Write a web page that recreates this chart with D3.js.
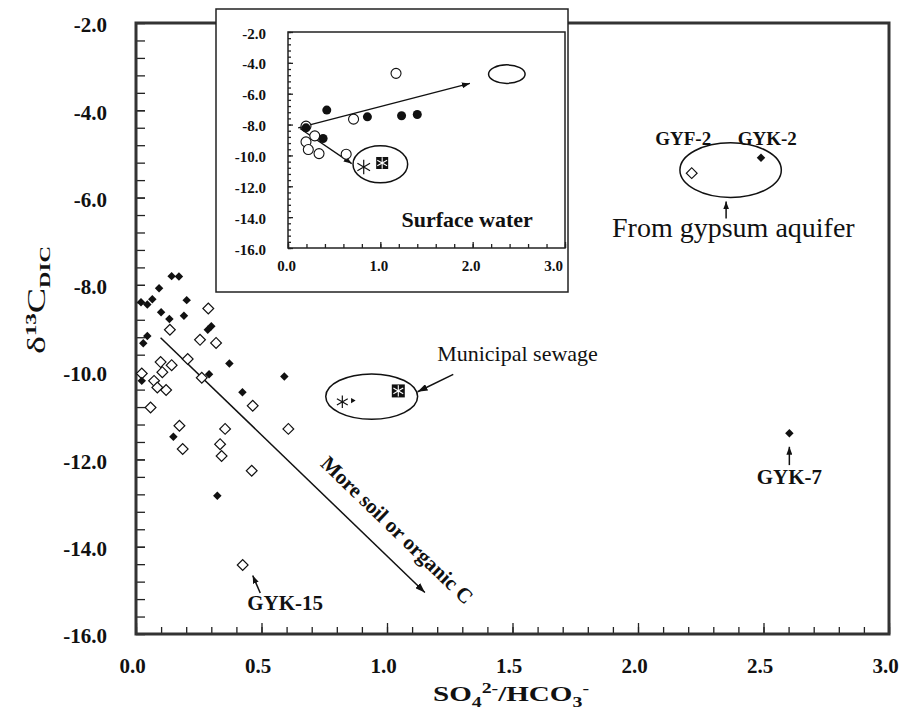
<!DOCTYPE html>
<html>
<head>
<meta charset="utf-8">
<script src="https://cdn.jsdelivr.net/npm/d3@7"></script>
<style>
body { margin: 0; background: #fff; }
text { font-family: "Liberation Serif", "Times New Roman", serif; fill: #111; }
</style>
</head>
<body>
<div id="chart"></div>
<script>
// groundwater, filled diamonds  [SO4/HCO3, d13C]
const filledDiamonds = [
  [0.142, -7.80], [0.171, -7.81], [0.092, -8.08], [0.020, -8.40], [0.065, -8.33],
  [0.045, -8.45], [0.202, -8.35], [0.100, -8.63], [0.133, -8.78], [0.191, -8.71],
  [0.286, -9.03], [0.300, -8.95], [0.045, -9.17], [0.029, -9.34], [0.372, -9.80],
  [0.291, -10.05], [0.591, -10.10], [0.023, -10.20], [0.424, -10.46], [0.149, -11.48],
  [0.324, -12.83], [2.490, -5.09], [2.603, -11.40]
];
// groundwater, open diamonds
const openDiamonds = [
  [0.288, -8.54], [0.135, -9.03], [0.255, -9.26], [0.319, -9.33], [0.206, -9.70],
  [0.098, -9.77], [0.142, -9.84], [0.105, -10.00], [0.023, -10.03], [0.262, -10.13],
  [0.072, -10.20], [0.085, -10.35], [0.120, -10.41], [0.465, -10.77], [0.058, -10.81],
  [0.173, -11.23], [0.355, -11.30], [0.607, -11.30], [0.335, -11.65], [0.186, -11.76],
  [0.341, -11.92], [0.461, -12.26], [0.425, -14.42], [2.214, -5.44]
];
// sewage samples
const sewageStar = [[0.822, -10.68]];
const sewageTriangle = [[0.863, -10.65]];
const sewageBox = [[1.045, -10.43]];

// inset: surface water
const insetOpen = [
  [1.17, -4.68], [0.71, -7.65], [0.195, -8.10], [0.29, -8.73],
  [0.195, -9.12], [0.22, -9.62], [0.336, -9.88], [0.63, -9.92]
];
const insetFilled = [
  [0.42, -7.06], [0.195, -8.21], [0.38, -8.90], [0.86, -7.50], [1.23, -7.43], [1.40, -7.35]
];
const insetStar = [[0.82, -10.75]];
const insetBox = [[1.02, -10.49]];

const xTicks = [0, 0.5, 1, 1.5, 2, 2.5, 3];
const yTicks = [-2, -4, -6, -8, -10, -12, -14, -16];
const insetXTicks = [0, 1, 2, 3];
const insetYTicks = [-2, -4, -6, -8, -10, -12, -14, -16];

var margin = {top: 23, right: 11, bottom: 78, left: 136},
width = 900 - margin.left - margin.right,
height = 712 - margin.top - margin.bottom;

var svgRoot = d3.select("#chart")
.append("svg")
.attr("width", 900)
.attr("height", 712);

var svg = svgRoot.append("g")
.attr("transform", "translate(" + margin.left + "," + margin.top + ")");

var x = d3.scaleLinear().domain([0, 3]).range([0, width]);
var y = d3.scaleLinear().domain([-16, -2]).range([height, 0]);

defineArrow(svgRoot, "head", 10, 7);
defineArrow(svgRoot, "headSmall", 8, 6);

function defineArrow(root, id, len, wid) {
  root.append("defs").append("marker")
  .attr("id", id)
  .attr("markerUnits", "userSpaceOnUse")
  .attr("markerWidth", len).attr("markerHeight", wid)
  .attr("refX", len).attr("refY", wid / 2)
  .attr("orient", "auto")
  .append("path")
  .attr("d", "M0,0L" + len + "," + (wid / 2) + "L0," + wid + "Z")
  .attr("fill", "#111");
}

function styleTicks(g, size) {
  g.select(".domain").remove();
  g.selectAll("line").attr("stroke", "#222").attr("stroke-width", 1.3);
  g.selectAll("text")
  .style("font-family", '"Liberation Serif", "Times New Roman", serif')
  .style("font-weight", "bold")
  .style("font-size", size + "px")
  .attr("fill", "#111");
}

// ---- main axes ----
svg.append("g")
.attr("transform", "translate(0," + height + ")")
.call(d3.axisBottom(x).tickValues(d3.range(0, 3.001, 0.1)).tickSize(-7).tickFormat(""))
.call(g => styleTicks(g, 21));

svg.append("g")
.attr("transform", "translate(0," + height + ")")
.call(d3.axisBottom(x).tickValues(xTicks).tickSize(-11).tickPadding(24)
  .tickFormat(d => d.toFixed(1)))
.call(g => styleTicks(g, 21))
.call(g => g.selectAll("text").attr("dx", -4));

svg.append("g")
.call(d3.axisLeft(y).tickValues(d3.range(-16, -1.99, 0.4)).tickSize(-9).tickFormat(""))
.call(g => styleTicks(g, 21));

svg.append("g")
.call(d3.axisLeft(y).tickValues(yTicks).tickSize(-9).tickPadding(29)
  .tickFormat(d => d.toFixed(1)))
.call(g => styleTicks(g, 21))
.call(g => g.selectAll("text").attr("dy", "0.42em"));

svg.append("rect")
.attr("x", 0).attr("y", 0).attr("width", width).attr("height", height)
.attr("fill", "none").attr("stroke", "#333").attr("stroke-width", 3);

// axis titles
var yTitle = svgRoot.append("text")
.attr("transform", "translate(45,300) rotate(-90)")
.attr("text-anchor", "middle")
.attr("textLength", 108)
.attr("lengthAdjust", "spacingAndGlyphs")
.style("font-size", "25px");
yTitle.append("tspan").text("\u03B4");
yTitle.append("tspan").attr("dy", -9).style("font-size", "15px").style("font-weight", "bold").text("13");
yTitle.append("tspan").attr("dy", 9).text("C");
yTitle.append("tspan").attr("dy", 5).style("font-size", "15px").style("font-weight", "bold").text("DIC");

var xTitle = svgRoot.append("text")
.attr("x", 511).attr("y", 701)
.attr("text-anchor", "middle")
.attr("textLength", 156)
.attr("lengthAdjust", "spacingAndGlyphs")
.style("font-size", "22px").style("font-weight", "bold");
xTitle.append("tspan").text("SO");
xTitle.append("tspan").attr("dy", 6).style("font-size", "15px").text("4");
xTitle.append("tspan").attr("dy", -14).style("font-size", "15px").text("2-");
xTitle.append("tspan").attr("dy", 8).text("/HCO");
xTitle.append("tspan").attr("dy", 6).style("font-size", "15px").text("3");
xTitle.append("tspan").attr("dy", -14).style("font-size", "15px").text("-");

// ---- annotations (main) ----
function ellipse(g, xs, ys, cx, cy, rx, ry) {
  g.append("ellipse")
  .attr("cx", xs(cx)).attr("cy", ys(cy))
  .attr("rx", xs(cx + rx) - xs(cx)).attr("ry", ys(cy - ry) - ys(cy))
  .attr("fill", "none").attr("stroke", "#111").attr("stroke-width", 1.5);
}
function arrow(g, xs, ys, x1, y1, x2, y2, head, sw) {
  g.append("line")
  .attr("x1", xs(x1)).attr("y1", ys(y1)).attr("x2", xs(x2)).attr("y2", ys(y2))
  .attr("stroke", "#111").attr("stroke-width", sw || 1.5)
  .attr("marker-end", "url(#" + head + ")");
}
function label(g, xs, ys, px, py, txt, size, bold, anchor) {
  return g.append("text")
  .attr("x", xs(px)).attr("y", ys(py))
  .attr("text-anchor", anchor || "middle")
  .attr("dominant-baseline", "central")
  .style("font-size", size + "px")
  .style("font-weight", bold ? "bold" : "normal")
  .text(txt);
}

ellipse(svg, x, y, 0.939, -10.56, 0.183, 0.52);
ellipse(svg, x, y, 2.369, -5.37, 0.202, 0.626);

arrow(svg, x, y, 0.098, -9.21, 1.151, -15.05, "head", 1.5);
arrow(svg, x, y, 1.264, -10.05, 1.122, -10.45, "head", 1.5);
arrow(svg, x, y, 2.351, -6.48, 2.351, -6.09, "headSmall", 1.5);
arrow(svg, x, y, 2.603, -12.13, 2.603, -11.71, "headSmall", 1.5);
arrow(svg, x, y, 0.495, -15.06, 0.465, -14.66, "headSmall", 1.5);

label(svg, x, y, 1.52, -9.57, "Municipal sewage", 22, false);
label(svg, x, y, 2.38, -6.68, "From gypsum aquifer", 28, false);
label(svg, x, y, 2.18, -4.64, "GYF-2", 19, true);
label(svg, x, y, 2.515, -4.64, "GYK-2", 19, true);
label(svg, x, y, 2.603, -12.40, "GYK-7", 21, true);
label(svg, x, y, 0.594, -15.29, "GYK-15", 21, true);

svg.append("text")
.attr("transform", "translate(" + x(1.04) + "," + y(-13.62) + ") rotate(44)")
.attr("text-anchor", "middle")
.attr("dominant-baseline", "central")
.style("font-size", "21px").style("font-weight", "bold")
.text("More soil or organic C");

// ---- markers (main) ----
var diamond = d3.symbol().type(d3.symbolSquare);

svg.selectAll(".od").data(openDiamonds).join("path")
.attr("class", "od")
.attr("d", diamond.size(58)())
.attr("transform", d => "translate(" + x(d[0]) + "," + y(d[1]) + ") rotate(45)")
.attr("fill", "#fff").attr("stroke", "#111").attr("stroke-width", 1.2);

svg.selectAll(".fd").data(filledDiamonds).join("path")
.attr("class", "fd")
.attr("d", diamond.size(36)())
.attr("transform", d => "translate(" + x(d[0]) + "," + y(d[1]) + ") rotate(45)")
.attr("fill", "#111");

function stars(g, data, xs, ys, size, color, sw) {
  g.selectAll(null).data(data).join("path")
  .attr("d", d3.symbol().type(d3.symbolAsterisk).size(size)())
  .attr("transform", d => "translate(" + xs(d[0]) + "," + ys(d[1]) + ")")
  .attr("fill", "none").attr("stroke", color).attr("stroke-width", sw);
}
function boxes(g, data, xs, ys, side, starSize) {
  g.selectAll(null).data(data).join("rect")
  .attr("x", d => xs(d[0]) - side / 2).attr("y", d => ys(d[1]) - side / 2)
  .attr("width", side).attr("height", side)
  .attr("fill", "#111");
  stars(g, data, xs, ys, starSize, "#fff", 1.1);
}

stars(svg, sewageStar, x, y, 110, "#111", 1.2);
svg.selectAll(null).data(sewageTriangle).join("path")
.attr("d", d3.symbol().type(d3.symbolTriangle).size(12)())
.attr("transform", d => "translate(" + x(d[0]) + "," + y(d[1]) + ") rotate(90)")
.attr("fill", "#111");
boxes(svg, sewageBox, x, y, 13, 90);

// ---- inset ----
var inset = svgRoot.append("g").attr("transform", "translate(216,9)");
inset.append("rect")
.attr("x", 0).attr("y", 0).attr("width", 352).attr("height", 283)
.attr("fill", "#fff").attr("stroke", "#222").attr("stroke-width", 1.5);

var im = {left: 72, top: 23, width: 277, height: 216};
var ig = inset.append("g").attr("transform", "translate(" + im.left + "," + im.top + ")");
var ix = d3.scaleLinear().domain([0, 3]).range([0, im.width]);
var iy = d3.scaleLinear().domain([-16, -2]).range([im.height, 0]);

ig.append("g")
.attr("transform", "translate(0," + im.height + ")")
.call(d3.axisBottom(ix).tickValues(d3.range(0, 3.001, 0.2)).tickSize(-4).tickFormat(""))
.call(g => styleTicks(g, 15));
ig.append("g")
.attr("transform", "translate(0," + im.height + ")")
.call(d3.axisBottom(ix).tickValues(insetXTicks).tickSize(-6).tickPadding(12)
  .tickFormat(d => d.toFixed(1)))
.call(g => styleTicks(g, 15))
.call(g => g.selectAll("text").attr("dx", (d, i) => i === insetXTicks.length - 1 ? -12 : -2));
ig.append("g")
.call(d3.axisLeft(iy).tickValues(d3.range(-16, -1.99, 0.4)).tickSize(-3).tickFormat(""))
.call(g => styleTicks(g, 15));
ig.append("g")
.call(d3.axisLeft(iy).tickValues(insetYTicks).tickSize(-5).tickPadding(22)
  .tickFormat(d => d.toFixed(1)))
.call(g => styleTicks(g, 15))
.call(g => g.selectAll("text").attr("dy", "0.4em"));
ig.append("rect")
.attr("width", im.width).attr("height", im.height)
.attr("fill", "none").attr("stroke", "#222").attr("stroke-width", 1.5);

ellipse(ig, ix, iy, 1.0, -10.57, 0.296, 1.2);
ellipse(ig, ix, iy, 2.37, -4.73, 0.198, 0.6);
arrow(ig, ix, iy, 0.11, -8.21, 1.97, -5.33, "headSmall", 1.3);
arrow(ig, ix, iy, 0.13, -8.25, 0.69, -10.53, "headSmall", 1.3);

ig.selectAll(".ic").data(insetOpen).join("circle")
.attr("class", "ic")
.attr("cx", d => ix(d[0])).attr("cy", d => iy(d[1])).attr("r", 5)
.attr("fill", "#fff").attr("stroke", "#111").attr("stroke-width", 1.1);
ig.selectAll(".ifc").data(insetFilled).join("circle")
.attr("class", "ifc")
.attr("cx", d => ix(d[0])).attr("cy", d => iy(d[1])).attr("r", 4.5)
.attr("fill", "#111");
stars(ig, insetStar, ix, iy, 150, "#111", 1.2);
boxes(ig, insetBox, ix, iy, 12, 90);

label(ig, ix, iy, 1.94, -14.18, "Surface water", 22, true);
</script>
</body>
</html>
